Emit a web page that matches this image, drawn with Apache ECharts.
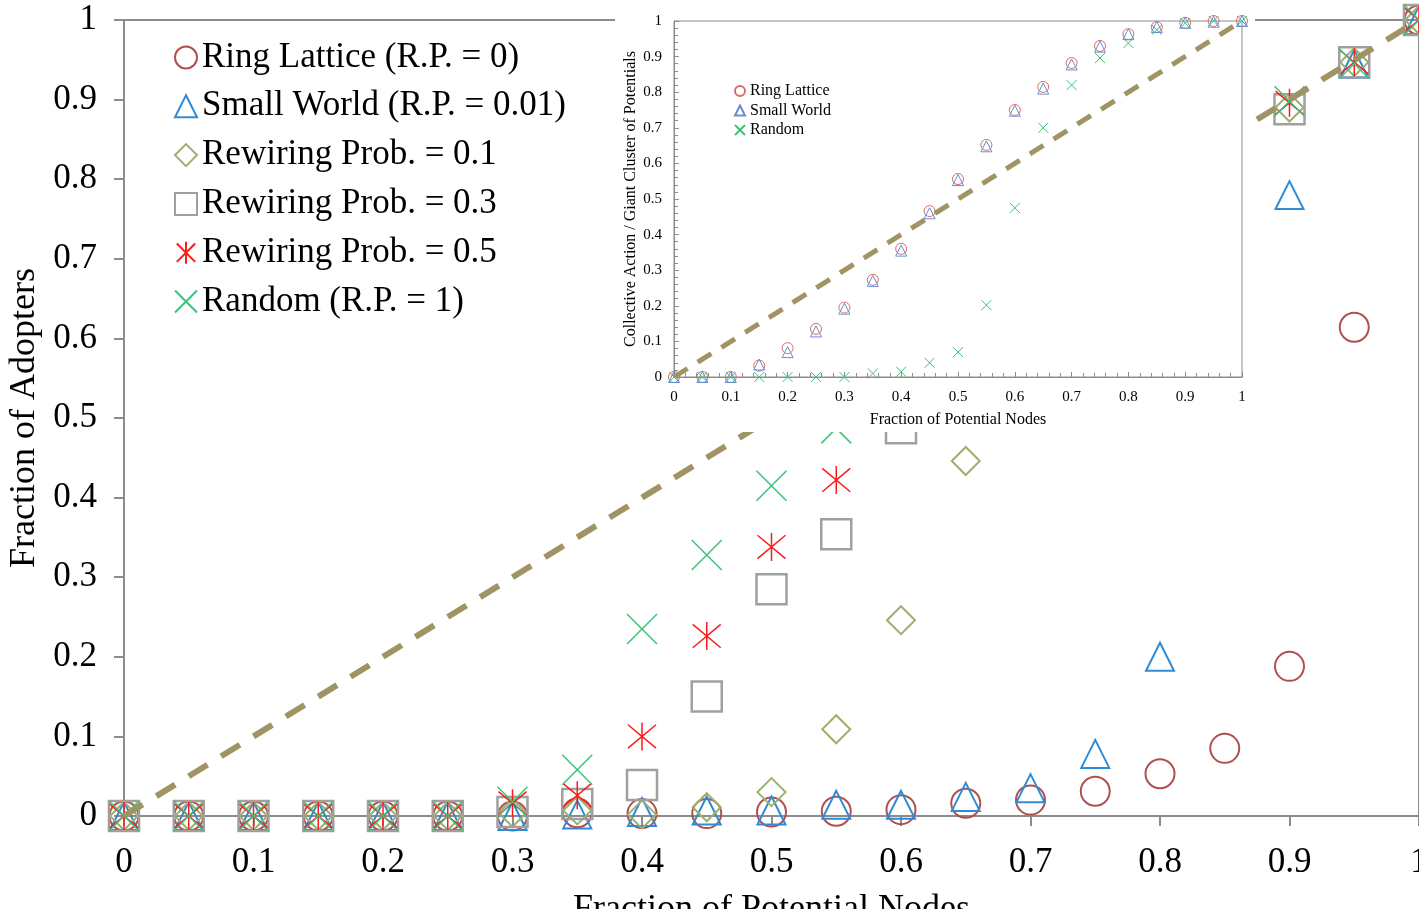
<!DOCTYPE html>
<html>
<head>
<meta charset="utf-8">
<title>Fraction of Adopters</title>
<script src="https://cdn.jsdelivr.net/npm/echarts@6/dist/echarts.min.js"></script>
<style>
    html, body { margin: 0; padding: 0; background: #fff; }
    #chart { width: 1419px; height: 909px; }
</style>
</head>
<body>
<div id="chart"></div>
<script>
// x positions (fraction of potential nodes), shared by every series
const xValues = [0, 0.05, 0.1, 0.15, 0.2, 0.25, 0.3, 0.35, 0.4, 0.45, 0.5,
    0.55, 0.6, 0.65, 0.7, 0.75, 0.8, 0.85, 0.9, 0.95, 1];

// main chart: fraction of adopters
const ringLattice = [0, 0, 0, 0, 0, 0, 0, 0.004, 0.003, 0.003, 0.005,
    0.006, 0.008, 0.016, 0.02, 0.031, 0.053, 0.085, 0.188, 0.614, 1];
const smallWorld = [0, 0, 0, 0, 0, 0, 0, 0.002, 0.005, 0.007, 0.007,
    0.014, 0.014, 0.024, 0.035, 0.078, 0.2, 0.52, 0.78, 0.945, 1];
const rewiring01 = [0, 0, 0, 0, 0, 0, 0.004, 0.007, 0.002, 0.011, 0.03,
    0.109, 0.246, 0.446, 0.62, 0.74, 0.82, 0.86, 0.89, 0.947, 1];
const rewiring03 = [0, 0, 0, 0, 0, 0, 0.005, 0.015, 0.039, 0.15, 0.285,
    0.354, 0.487, 0.65, 0.76, 0.82, 0.86, 0.88, 0.888, 0.947, 1];
const rewiring05 = [0, 0, 0, 0, 0, 0, 0.016, 0.026, 0.1, 0.226, 0.338,
    0.422, 0.58, 0.7, 0.78, 0.84, 0.87, 0.89, 0.896, 0.947, 1];
const randomNet = [0, 0, 0, 0, 0, 0, 0.018, 0.058, 0.235, 0.328, 0.415,
    0.487, 0.62, 0.75, 0.82, 0.87, 0.89, 0.9, 0.898, 0.945, 1];

// inset: collective action / giant cluster of potentials
const insetRing = [0, 0, 0, 0.032, 0.081, 0.135, 0.195, 0.273, 0.36, 0.466, 0.556,
    0.652, 0.75, 0.815, 0.882, 0.93, 0.963, 0.983, 0.995, 1, 1];
const insetSmall = [0, 0, 0, 0.035, 0.07, 0.128, 0.192, 0.27, 0.355, 0.46, 0.553,
    0.648, 0.748, 0.81, 0.878, 0.928, 0.963, 0.983, 0.995, 0.998, 1];
const insetRandom = [0, 0, 0, 0, 0, 0, 0, 0.01, 0.015, 0.04, 0.07,
    0.202, 0.475, 0.7, 0.82, 0.896, 0.938, 0.975, 0.994, 1, 1];

// reference diagonal y = x
const diagonal = [0, 1];

const mainNames = ['Ring Lattice (R.P. = 0)', 'Small World (R.P. = 0.01)', 'Rewiring Prob. = 0.1',
    'Rewiring Prob. = 0.3', 'Rewiring Prob. = 0.5', 'Random (R.P. = 1)'];
const insetNames = ['Ring Lattice', 'Small World', 'Random'];

const FONT = 'Liberation Serif';
const AXIS_GRAY = '#8c8c8c';

const SYM_X = 'path://M0 0L10 10M10 0L0 10';
const SYM_STAR = 'path://M0 0L10 10M10 0L0 10M5 -1L5 11';
const SYM_SQUARE = 'path://M0 0L10 0L10 10L0 10Z';
const SYM_DIAMOND = 'path://M5 0L10 5L5 10L0 5Z';

function pairs(ys) {
    return xValues.map((x, i) => [x, ys[i]]);
}

function scatter(name, ys, symbol, size, color, width, gridIdx, z) {
    return {
        name: name,
        type: 'scatter',
        xAxisIndex: gridIdx,
        yAxisIndex: gridIdx,
        data: pairs(ys),
        symbol: symbol,
        symbolSize: size,
        z: z,
        itemStyle: { color: 'transparent', borderColor: color, borderWidth: width, opacity: 1 },
        emphasis: { disabled: true }
    };
}

function diagLine(gridIdx, color, width, dash, z) {
    return {
        type: 'line',
        xAxisIndex: gridIdx,
        yAxisIndex: gridIdx,
        data: diagonal.map(v => [v, v]),
        showSymbol: false,
        symbol: 'none',
        z: z,
        lineStyle: { color: color, width: width, type: dash, cap: 'butt' },
        emphasis: { disabled: true }
    };
}

document.addEventListener('DOMContentLoaded', function() {
    const chart = echarts.init(document.getElementById('chart'));

    const option = {
        animation: false,
        backgroundColor: '#fff',
        textStyle: { fontFamily: FONT, color: '#000' },
        grid: [
            { left: 124, right: 0, top: 20, bottom: 93, outerBoundsMode: 'none',
              show: true, borderColor: AXIS_GRAY, borderWidth: 2 },
            { left: 674, right: 177, top: 21, bottom: 532, outerBoundsMode: 'none',
              show: true, z: 11, backgroundColor: '#fff', borderColor: AXIS_GRAY, borderWidth: 1 }
        ],
        // white box behind the inset
        graphic: [
            { type: 'rect', z: 10, silent: true,
              shape: { x: 615, y: 0, width: 640, height: 432 }, style: { fill: '#fff' } }
        ],
        legend: [
            {
                data: mainNames,
                orient: 'vertical',
                left: 169, top: 35,
                itemWidth: 22, itemHeight: 22, itemGap: 13.8,
                textStyle: { fontFamily: FONT, fontSize: 35, color: '#000' },
                selectedMode: false
            },
            {
                data: insetNames,
                orient: 'vertical',
                left: 729, top: 78, z: 15,
                itemWidth: 10, itemHeight: 10, itemGap: 3.5,
                textStyle: { fontFamily: FONT, fontSize: 16, color: '#000' },
                selectedMode: false
            }
        ],
        xAxis: [
            {
                gridIndex: 0, type: 'value', min: 0, max: 1, interval: 0.1,
                name: 'Fraction of Potential Nodes', nameLocation: 'middle', nameGap: 76,
                nameTextStyle: { fontFamily: FONT, fontSize: 36, color: '#000' },
                axisLine: { lineStyle: { color: AXIS_GRAY, width: 2 } },
                axisTick: { length: 10, lineStyle: { color: AXIS_GRAY, width: 2 } },
                axisLabel: { fontFamily: FONT, fontSize: 35, color: '#000', margin: 29 },
                splitLine: { show: false }
            },
            {
                gridIndex: 1, type: 'value', min: 0, max: 1, interval: 0.1, z: 12,
                name: 'Fraction of Potential Nodes', nameLocation: 'middle', nameGap: 35,
                nameTextStyle: { fontFamily: FONT, fontSize: 16, color: '#000' },
                axisLine: { lineStyle: { color: AXIS_GRAY, width: 1 } },
                axisTick: { length: 5, inside: true, lineStyle: { color: AXIS_GRAY } },
                minorTick: { show: true, splitNumber: 5, length: 4, lineStyle: { color: AXIS_GRAY } },
                axisLabel: { fontFamily: FONT, fontSize: 15, color: '#000', margin: 13 },
                splitLine: { show: false }
            }
        ],
        yAxis: [
            {
                gridIndex: 0, type: 'value', min: 0, max: 1, interval: 0.1,
                name: 'Fraction of Adopters', nameLocation: 'middle', nameGap: 77,
                nameTextStyle: { fontFamily: FONT, fontSize: 36, color: '#000' },
                axisLine: { show: true, lineStyle: { color: AXIS_GRAY, width: 2 } },
                axisTick: { show: true, length: 10, lineStyle: { color: AXIS_GRAY, width: 2 } },
                axisLabel: { fontFamily: FONT, fontSize: 35, color: '#000', margin: 27 },
                splitLine: { show: false }
            },
            {
                gridIndex: 1, type: 'value', min: 0, max: 1, interval: 0.1, z: 12,
                name: 'Collective Action / Giant Cluster of Potentials', nameLocation: 'middle', nameGap: 35,
                nameTextStyle: { fontFamily: FONT, fontSize: 16, color: '#000' },
                axisLine: { show: true, lineStyle: { color: AXIS_GRAY, width: 1 } },
                axisTick: { show: true, length: 5, inside: true, lineStyle: { color: AXIS_GRAY } },
                minorTick: { show: true, splitNumber: 5, length: 4, lineStyle: { color: AXIS_GRAY } },
                axisLabel: { fontFamily: FONT, fontSize: 15, color: '#000', margin: 12 },
                splitLine: { show: false }
            }
        ],
        series: [
            scatter(mainNames[0], ringLattice, 'circle', 29, '#b04f4f', 2, 0, 2),
            scatter(mainNames[1], smallWorld, 'triangle', 28, '#2f8bd6', 2, 0, 2),
            scatter(mainNames[2], rewiring01, SYM_DIAMOND, 28, '#9caf6e', 2, 0, 2),
            scatter(mainNames[3], rewiring03, SYM_SQUARE, 30, '#a0a0a0', 2.5, 0, 2),
            scatter(mainNames[4], rewiring05, SYM_STAR, 28, '#ff1a1a', 1.5, 0, 2),
            scatter(mainNames[5], randomNet, SYM_X, 30, '#3cc37a', 1.5, 0, 2),
            diagLine(0, '#a09464', 6, [22, 16], 3),

            scatter(insetNames[0], insetRing, 'circle', 11, '#e06a6a', 1, 1, 13),
            scatter(insetNames[1], insetSmall, 'triangle', 11, '#6a8cd0', 1, 1, 13),
            scatter(insetNames[2], insetRandom, SYM_X, 10, '#3cc37a', 1, 1, 13),
            diagLine(1, '#a09464', 5, [16, 12], 14)
        ]
    };

    chart.setOption(option);
});
</script>
</body>
</html>
